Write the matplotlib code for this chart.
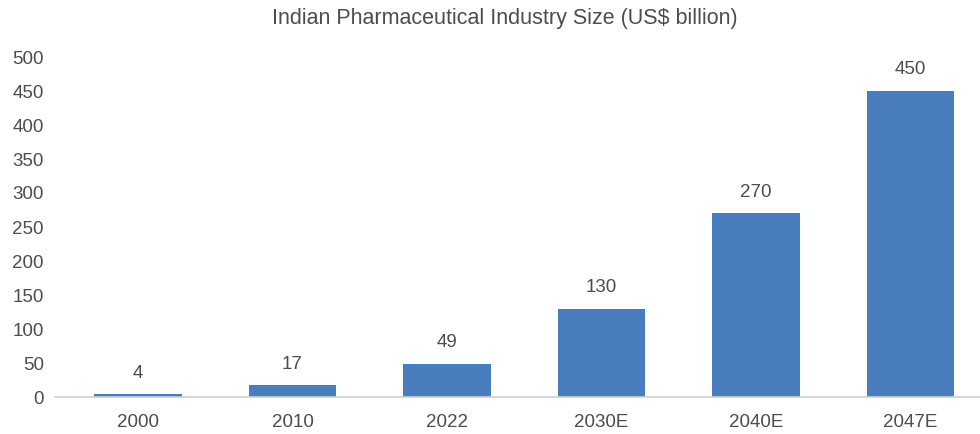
import matplotlib.pyplot as plt

plt.rcParams['font.family'] = ['Liberation Sans', 'DejaVu Sans']

# Data
years = ['2000', '2010', '2022', '2030E', '2040E', '2047E']
size_bn = [4, 17, 49, 130, 270, 450]
yticks = [0, 50, 100, 150, 200, 250, 300, 350, 400, 450, 500]

bar_color = '#4a7dbd'
text_color = '#4d4d4d'

fig = plt.figure(figsize=(9.8, 4.34), dpi=100)
ax = fig.add_axes([55/980, 37/434, 925/980, 360/434])

x = range(len(years))
bars = ax.bar(x, size_bn, width=0.565, color=bar_color)

for xi, v in zip(x, size_bn):
    ax.annotate(str(v), (xi, v), xytext=(0, 9), textcoords='offset points',
                ha='center', va='bottom', fontsize=13.5, color=text_color)

ax.set_xlim(-0.537, 5.45)
ax.set_ylim(0, 500 * 360 / 340)
ax.set_yticks(yticks)
ax.set_xticks(list(x))
ax.set_xticklabels(years)

for s in ['top', 'right', 'left']:
    ax.spines[s].set_visible(False)
ax.spines['bottom'].set_color('#d0d0d0')
ax.spines['bottom'].set_linewidth(1.2)
ax.tick_params(axis='both', length=0, labelsize=13.5, labelcolor=text_color)
ax.tick_params(axis='y', pad=8)
ax.tick_params(axis='x', pad=12)

fig.text(0.515, 0.958, 'Indian Pharmaceutical Industry Size (US$ billion)',
         ha='center', va='center', fontsize=15.5, color=text_color)

fig.savefig('out.png', dpi=100)
